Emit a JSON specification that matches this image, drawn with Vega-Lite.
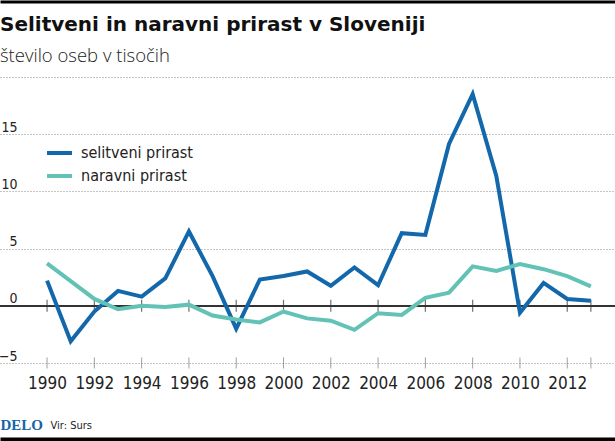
{
  "$schema": "https://vega.github.io/schema/vega-lite/v6.json",
  "width": 615,
  "height": 286,
  "autosize": {"type": "none"},
  "padding": {"left": 0, "right": 0, "top": 77, "bottom": 78},
  "background": "#ffffff",
  "title": {
    "text": "Selitveni in naravni prirast v Sloveniji",
    "subtitle": "število oseb v tisočih",
    "anchor": "start",
    "frame": "group",
    "offset": -64,
    "font": "DejaVu Sans",
    "fontSize": 20,
    "fontWeight": "bold",
    "color": "#111111",
    "subtitleFont": "Open Sans",
    "subtitleFontSize": 18.5,
    "subtitleFontWeight": 300,
    "subtitleColor": "#222222",
    "subtitlePadding": 12
  },
  "config": {
    "view": {"stroke": null},
    "axis": {"labelFont": "DejaVu Sans Condensed, sans-serif", "titleFont": "DejaVu Sans Condensed, sans-serif"}
  },
  "datasets": {
    "series": [
      {"year": 1990, "series": "selitveni prirast", "value": 2.2},
      {"year": 1991, "series": "selitveni prirast", "value": -3.1},
      {"year": 1992, "series": "selitveni prirast", "value": -0.5},
      {"year": 1993, "series": "selitveni prirast", "value": 1.3},
      {"year": 1994, "series": "selitveni prirast", "value": 0.8},
      {"year": 1995, "series": "selitveni prirast", "value": 2.4},
      {"year": 1996, "series": "selitveni prirast", "value": 6.5},
      {"year": 1997, "series": "selitveni prirast", "value": 2.6},
      {"year": 1998, "series": "selitveni prirast", "value": -2.0},
      {"year": 1999, "series": "selitveni prirast", "value": 2.3},
      {"year": 2000, "series": "selitveni prirast", "value": 2.6},
      {"year": 2001, "series": "selitveni prirast", "value": 3.0},
      {"year": 2002, "series": "selitveni prirast", "value": 1.75},
      {"year": 2003, "series": "selitveni prirast", "value": 3.35},
      {"year": 2004, "series": "selitveni prirast", "value": 1.8},
      {"year": 2005, "series": "selitveni prirast", "value": 6.35},
      {"year": 2006, "series": "selitveni prirast", "value": 6.2},
      {"year": 2007, "series": "selitveni prirast", "value": 14.15},
      {"year": 2008, "series": "selitveni prirast", "value": 18.5},
      {"year": 2009, "series": "selitveni prirast", "value": 11.35},
      {"year": 2010, "series": "selitveni prirast", "value": -0.6},
      {"year": 2011, "series": "selitveni prirast", "value": 2.0},
      {"year": 2012, "series": "selitveni prirast", "value": 0.6},
      {"year": 2013, "series": "selitveni prirast", "value": 0.45},
      {"year": 1990, "series": "naravni prirast", "value": 3.7},
      {"year": 1991, "series": "naravni prirast", "value": 2.15},
      {"year": 1992, "series": "naravni prirast", "value": 0.6},
      {"year": 1993, "series": "naravni prirast", "value": -0.3},
      {"year": 1994, "series": "naravni prirast", "value": 0.0},
      {"year": 1995, "series": "naravni prirast", "value": -0.1},
      {"year": 1996, "series": "naravni prirast", "value": 0.1},
      {"year": 1997, "series": "naravni prirast", "value": -0.85},
      {"year": 1998, "series": "naravni prirast", "value": -1.2},
      {"year": 1999, "series": "naravni prirast", "value": -1.45},
      {"year": 2000, "series": "naravni prirast", "value": -0.5},
      {"year": 2001, "series": "naravni prirast", "value": -1.1},
      {"year": 2002, "series": "naravni prirast", "value": -1.3},
      {"year": 2003, "series": "naravni prirast", "value": -2.1},
      {"year": 2004, "series": "naravni prirast", "value": -0.65},
      {"year": 2005, "series": "naravni prirast", "value": -0.8},
      {"year": 2006, "series": "naravni prirast", "value": 0.7},
      {"year": 2007, "series": "naravni prirast", "value": 1.15},
      {"year": 2008, "series": "naravni prirast", "value": 3.45},
      {"year": 2009, "series": "naravni prirast", "value": 3.05},
      {"year": 2010, "series": "naravni prirast", "value": 3.65},
      {"year": 2011, "series": "naravni prirast", "value": 3.2},
      {"year": 2012, "series": "naravni prirast", "value": 2.6},
      {"year": 2013, "series": "naravni prirast", "value": 1.7}
    ],
    "ticks": [
      {"year": 1990}, {"year": 1992}, {"year": 1994}, {"year": 1996}, {"year": 1998},
      {"year": 2000}, {"year": 2002}, {"year": 2004}, {"year": 2006}, {"year": 2008},
      {"year": 2010}, {"year": 2012}, {"year": 2013}
    ]
  },
  "resolve": {"axis": {"x": "independent"}},
  "layer": [
    {
      "data": {"name": "ticks"},
      "mark": {"type": "tick", "orient": "vertical", "size": 11, "thickness": 1, "color": "#777777"},
      "encoding": {
        "x": {"field": "year", "type": "quantitative", "scale": {"domain": [1988.01, 2014.02], "nice": false, "zero": false}, "axis": null},
        "y": {"datum": -5, "type": "quantitative", "scale": {"domain": [-5, 20], "nice": false}}
      }
    },
    {
      "data": {"name": "ticks"},
      "mark": {"type": "rule", "color": "#333333", "strokeWidth": 1.5},
      "encoding": {
        "y": {"datum": 0, "type": "quantitative"}
      }
    },
    {
      "data": {"name": "ticks"},
      "mark": {"type": "tick", "orient": "vertical", "size": 12, "thickness": 1.2, "color": "#333333"},
      "encoding": {
        "x": {"field": "year", "type": "quantitative", "scale": {"domain": [1988.01, 2014.02], "nice": false, "zero": false},
          "axis": {"orient": "top", "offset": 75.5, "domain": true, "domainColor": "#000000", "domainWidth": 3, "ticks": false, "labels": false, "grid": false, "title": null}},
        "y": {"datum": 0, "type": "quantitative"}
      }
    },
    {
      "data": {"name": "series"},
      "mark": {"type": "line", "strokeWidth": 4},
      "encoding": {
        "x": {"field": "year", "type": "quantitative", "scale": {"domain": [1988.01, 2014.02], "nice": false, "zero": false},
          "axis": {"orient": "bottom", "offset": 76, "values": [1990, 1992, 1994, 1996, 1998, 2000, 2002, 2004, 2006, 2008, 2010, 2012], "format": "d",
            "domain": true, "domainColor": "#000000", "domainWidth": 4, "ticks": false, "tickSize": 0, "grid": false,
            "labelPadding": -50.7, "labelBaseline": "alphabetic", "labelFontSize": 17, "labelColor": "#222222", "labelOverlap": false, "labelFlush": false,
            "title": "DELO", "titleFont": "Liberation Serif", "titleFontWeight": "bold", "titleFontSize": 15, "titleColor": "#1565a8",
            "titleX": 0, "titleY": -10, "titleAlign": "left", "titleAnchor": "start", "titleBaseline": "alphabetic"}},
        "y": {"field": "value", "type": "quantitative", "scale": {"domain": [-5, 20], "nice": false},
          "axis": {"orient": "left", "values": [-5, 0, 5, 10, 15, 20], "format": "d", "labelExpr": "datum.value == 20 ? '' : datum.label",
            "grid": true, "gridColor": "#888888", "gridDash": [1, 2], "gridWidth": 1, "domain": false, "ticks": false, "tickSize": 0,
            "labelAlign": "right", "labelPadding": -17, "labelBaseline": "alphabetic", "labelOffset": -3, "labelFontSize": 14, "labelColor": "#222222",
            "title": "Vir: Surs", "titleAngle": 0, "titleX": 50, "titleY": 351.7, "titleAlign": "left", "titleBaseline": "alphabetic",
            "titleFontSize": 11, "titleFontWeight": "normal", "titleColor": "#222222"}},
        "color": {"field": "series", "type": "nominal",
          "scale": {"domain": ["selitveni prirast", "naravni prirast"], "range": ["#1268ab", "#62c2b5"]},
          "legend": {"orient": "none", "legendX": 45, "legendY": 61.5, "title": null, "symbolType": "stroke", "symbolStrokeWidth": 4, "symbolSize": 625,
            "labelFont": "DejaVu Sans Condensed, sans-serif", "labelFontSize": 16, "labelColor": "#222222", "labelOffset": 7, "rowPadding": 0, "padding": 0}}
      }
    }
  ]
}
